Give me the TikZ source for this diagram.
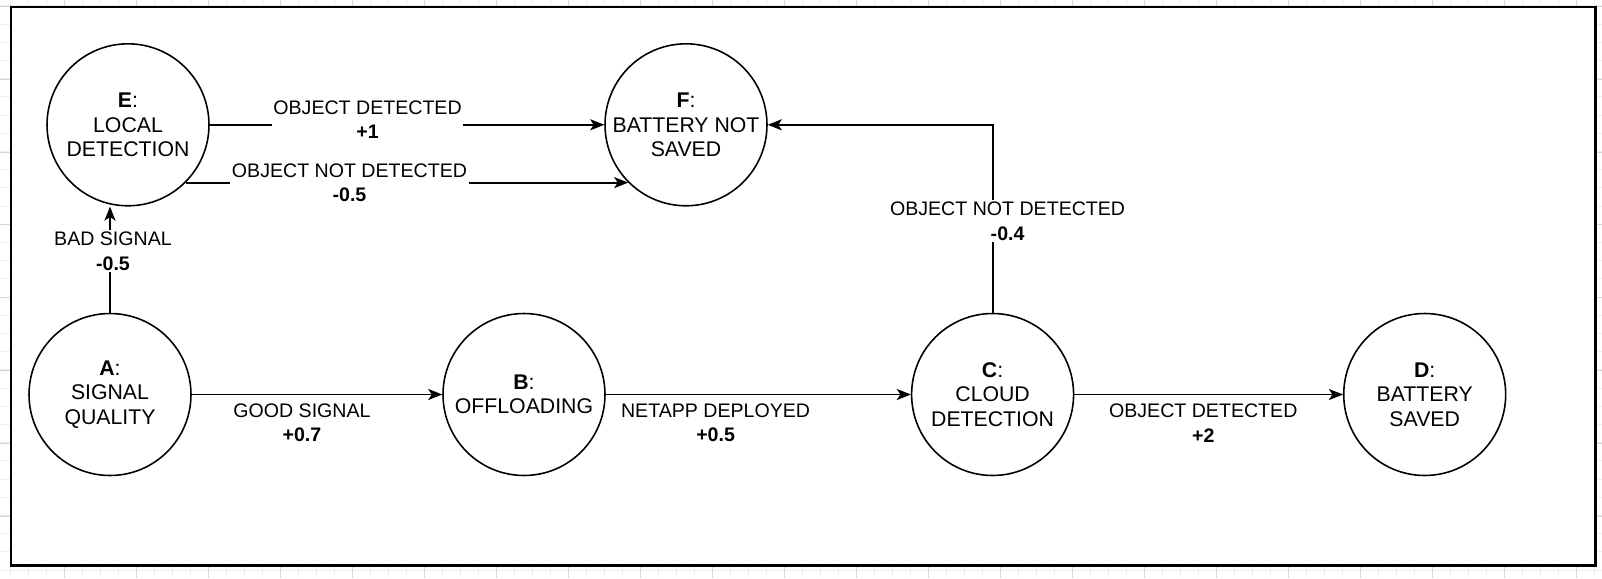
\documentclass[tikz,border=0pt]{standalone}
\usepackage{fontspec}
\setmainfont{Liberation Sans}
\usetikzlibrary{arrows.meta}

\newcommand{\statefont}{\fontsize{12.1}{13.9}\selectfont}
\newcommand{\edgefont}{\fontsize{11.15}{13.9}\selectfont}

\tikzstyle{state} = [circle,draw,line width=0.9pt,minimum size=3.24cm,inner sep=0pt,align=center,font=\statefont]
\tikzstyle{arr} = [line width=1.1pt,-{Stealth[length=0.28cm,width=0.22cm,inset=0.07cm]}]
\tikzstyle{gaplabel} = [fill=white,inner xsep=1pt,inner ysep=1pt,align=center,font=\edgefont]
\tikzstyle{sidelabel} = [inner sep=1pt,align=center,font=\edgefont]
\tikzstyle{minorgrid} = [black!7,line width=0.5pt]
\tikzstyle{majorgrid} = [black!16,line width=0.5pt]

\begin{document}
\begin{tikzpicture}[x=0.02cm,y=-0.02cm]
	\useasboundingbox (0,0) rectangle (1602,578);
	
	% background grid
	\foreach \gx in {10,28,...,1602} \draw[minorgrid] (\gx,0) -- (\gx,578);
	\foreach \gy in {5.8,24,...,578} \draw[minorgrid] (0,\gy) -- (1602,\gy);
	\foreach \gx in {64,136,...,1602} \draw[majorgrid] (\gx,0) -- (\gx,578);
	\foreach \gy in {6.5,79.3,...,578} \draw[majorgrid] (0,\gy) -- (1602,\gy);
	\draw[line width=1.2pt,fill=white] (11,7.3) rectangle (1595.5,565.5);
	
	\node[state] (A) at (110,394.5) {\textbf{A}:\\SIGNAL\\QUALITY};
	\node[state] (B) at (524,394.5) {\textbf{B}:\\OFFLOADING};
	\node[state] (C) at (992.6,394.5) {\textbf{C}:\\CLOUD\\DETECTION};
	\node[state] (D) at (1424.7,394.5) {\textbf{D}:\\BATTERY\\SAVED};
	\node[state] (E) at (128,124.8) {\textbf{E}:\\LOCAL\\DETECTION};
	\node[state] (F) at (686,124.8) {\textbf{F}:\\BATTERY NOT\\SAVED};
	
	\draw[arr] (A) -- (A |- E.south) node[gaplabel,pos=0.58,xshift=0.06cm] {BAD SIGNAL\\\textbf{-0.5}};
	\draw[arr] (E) -- (F) node[gaplabel,pos=0.4,yshift=0.1cm] {OBJECT DETECTED\\\textbf{+1}};
	\draw[arr] (E.-45) -- (F.-135) node[gaplabel,pos=0.37] {OBJECT NOT DETECTED\\\textbf{-0.5}};
	\draw[arr] (A) -- (B) node[sidelabel,pos=0.44,yshift=-0.57cm] {GOOD SIGNAL\\\textbf{+0.7}};
	\draw[arr] (B) -- (C) node[sidelabel,pos=0.36,yshift=-0.57cm] {NETAPP DEPLOYED\\\textbf{+0.5}};
	\draw[arr] (C) -- (D) node[sidelabel,pos=0.48,yshift=-0.57cm] {OBJECT DETECTED\\\textbf{+2}};
	\draw[arr] (C) |- (F) node[gaplabel,pos=0.243,xshift=0.3cm] {OBJECT NOT DETECTED\\\textbf{-0.4}};
\end{tikzpicture}
\end{document}
